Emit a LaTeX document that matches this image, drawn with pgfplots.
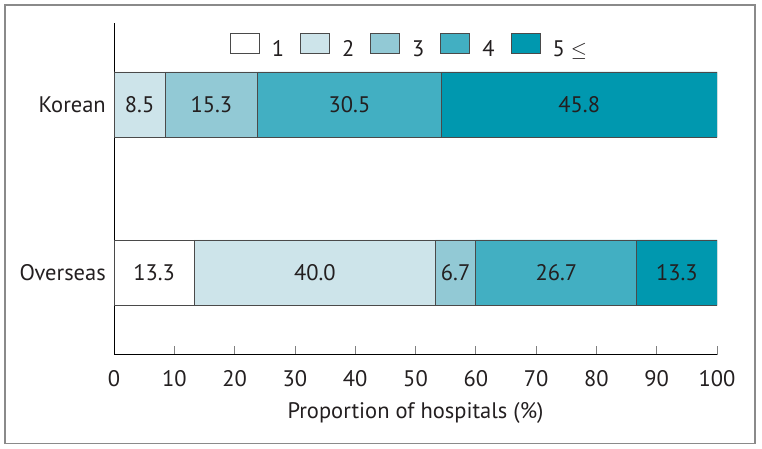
\documentclass[border=0pt]{standalone}
\usepackage{pgfplots}
\usepackage{pgfplotstable}
\pgfplotsset{compat=1.18}
\usepackage{fontspec}
\setmainfont{PT Sans}
\definecolor{c2}{HTML}{CDE4EA}
\definecolor{c3}{HTML}{92C9D5}
\definecolor{c4}{HTML}{42AFC2}
\definecolor{c5}{HTML}{0098AF}
\definecolor{edge}{HTML}{4A4A4A}
\definecolor{txt}{HTML}{231F20}
\definecolor{framec}{HTML}{8A8A8A}

\pgfplotstableread{
grp s1 s2 s3 s4 s5
0 13.3 40.0 6.7 26.7 13.3
1 0 8.5 15.3 30.5 45.8
}\datatable

\pgfplotstableread{
x y lab
4.25 1 8.5
16.15 1 15.3
39.05 1 30.5
77.15 1 45.8
6.65 0 13.3
33.3 0 40.0
56.65 0 6.7
73.35 0 26.7
93.35 0 13.3
}\labtable

\pgfplotsset{
  common/.style={
    at={(114pt,94pt)}, anchor=south west,
    scale only axis, width=603pt, height=332pt,
    xmin=0, xmax=100, ymin=-0.491, ymax=1.485,
  }
}

\begin{document}
\fontsize{22.5}{27}\selectfont
\begin{tikzpicture}[x=1pt,y=1pt]
\useasboundingbox (0,0) rectangle (762,449);
\draw[framec, line width=1.6pt] (5,5.5) rectangle (755,444);
\begin{axis}[
  common,
  xbar stacked, bar width=65pt,
  axis x line=bottom, axis y line=left,
  axis line style={-, line width=1pt, black},
  xtick={0,10,...,100}, tick align=inside, major tick length=9pt,
  xtick style={gray, line width=0.8pt},
  ytick={0,1}, yticklabels={Overseas,Korean}, ytick style={draw=none},
  /pgf/number format/assume math mode=true,
  tick label style={text=txt},
  xticklabel style={inner sep=0pt, yshift=-15pt},
  yticklabel style={inner sep=0pt, xshift=-8pt},
  xlabel={Proportion of hospitals (\%)},
  xlabel style={at={(axis description cs:0.5,0)}, anchor=base, yshift=-64pt, inner sep=0pt, text=txt},
  legend style={at={(0.49,1)}, anchor=north, yshift=-8pt, draw=none, fill=none,
    legend columns=-1, text=txt,
    /tikz/every odd column/.append style={column sep=10pt},
    /tikz/every even column/.append style={column sep=14pt}},
  legend image code/.code={\draw[#1, line width=0.9pt] (0pt,-2.5pt) rectangle (29pt,17pt);},
]
\addplot[fill=white, draw=edge, line width=0.9pt] table[x=s1, y=grp] {\datatable};
\addplot[fill=c2, draw=edge, line width=0.9pt] table[x=s2, y=grp] {\datatable};
\addplot[fill=c3, draw=edge, line width=0.9pt] table[x=s3, y=grp] {\datatable};
\addplot[fill=c4, draw=edge, line width=0.9pt] table[x=s4, y=grp] {\datatable};
\addplot[fill=c5, draw=edge, line width=0.9pt] table[x=s5, y=grp] {\datatable};
\legend{1,2,3,4,5 $\leq$}
\end{axis}
\begin{axis}[common, hide axis]
\addplot[draw=none, nodes near coords, point meta=explicit symbolic,
  every node near coord/.append style={anchor=center, text=txt, inner sep=0pt}]
  table[x=x, y=y, meta=lab] {\labtable};
\end{axis}
\end{tikzpicture}
\end{document}
